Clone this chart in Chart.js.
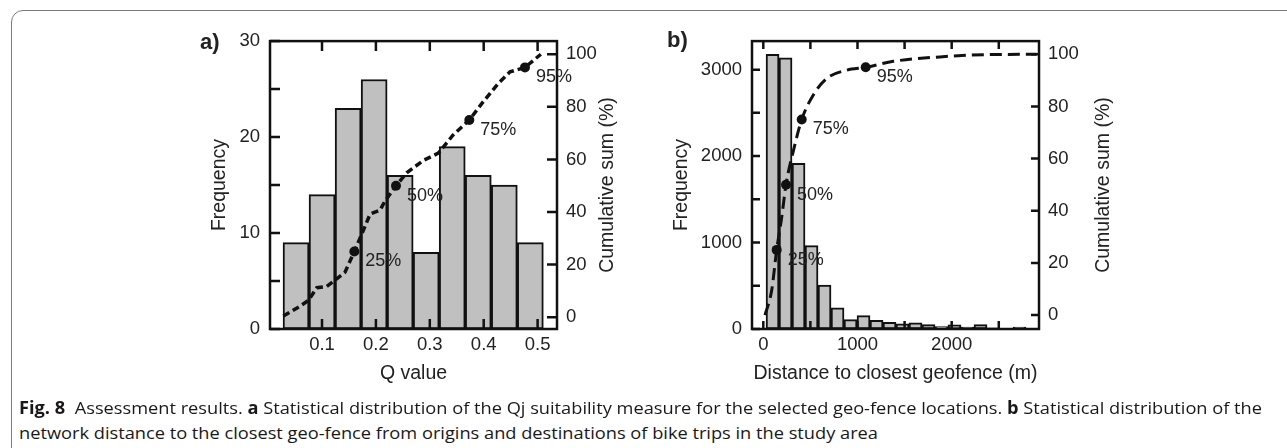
<!DOCTYPE html>
<html><head><meta charset="utf-8">
<script src="https://cdn.jsdelivr.net/npm/chart.js@4.4.1/dist/chart.umd.min.js"></script>
<style>
html,body{margin:0;padding:0;background:#fff;width:1287px;height:448px;overflow:hidden;position:relative;font-family:"Liberation Sans",Arial,sans-serif;}
#frame{position:absolute;left:11px;top:10px;width:1320px;height:470px;border:1.5px solid #7d7d7d;border-radius:12px;box-sizing:border-box;}
canvas{position:absolute;}
.pl{position:absolute;font-weight:bold;font-size:22px;color:#222;line-height:22px;}
.cap{position:absolute;left:19px;font-family:"Open Sans",sans-serif;font-size:17px;line-height:20px;color:#1a1718;white-space:nowrap;transform-origin:0 50%;}
.cap b{font-weight:700;}
</style></head><body>
<div id="frame"></div>
<canvas id="ca" width="440" height="380" style="left:190px;top:20px"></canvas>
<canvas id="cb" width="480" height="380" style="left:640px;top:20px"></canvas>
<div class="pl" style="left:200px;top:31px">a)</div>
<div class="pl" style="left:667px;top:29px">b)</div>
<div class="cap" id="cap1" style="top:398px"><b>Fig. 8</b>&nbsp; Assessment results. <b>a</b> Statistical distribution of the Qj suitability measure for the selected geo-fence locations. <b>b</b> Statistical distribution of the</div>
<div class="cap" id="cap2" style="top:423px">network distance to the closest geo-fence from origins and destinations of bike trips in the study area</div>
<script>
// ---------- Panel a data ----------
const qBinCenters = [0.0518, 0.1001, 0.1484, 0.1967, 0.2450, 0.2933, 0.3416, 0.3899, 0.4382, 0.4865];
const qFrequency  = [9, 14, 23, 26, 16, 8, 19, 16, 15, 9];
const qCumX = [0.0282, 0.0595, 0.0750, 0.0904, 0.1087, 0.1272, 0.1427, 0.1600, 0.1738, 0.1892, 0.2078, 0.2170, 0.2373, 0.2571, 0.2880, 0.3158, 0.3437, 0.3733, 0.3993, 0.4271, 0.4488, 0.4766, 0.5060];
const qCumY = [0.4, 4.2, 6.4, 11.2, 11.7, 14.6, 17.1, 25, 31.6, 39.2, 40.7, 44.2, 50, 54.9, 59.6, 62.4, 69.4, 75, 82.0, 88.9, 93.3, 95, 100];
const qMarkX = [0.160, 0.2373, 0.3733, 0.4766];
const qMarkY = [25, 50, 75, 95];
const qXTicks = [0.1, 0.2, 0.3, 0.4, 0.5];
const qYTicks = [0, 10, 20, 30];
const qYMinor = [5, 15, 25];
const cumTicks = [0, 20, 40, 60, 80, 100];

// ---------- Panel b data ----------
const dBinCenters = [98, 236, 374, 512, 650, 788, 926, 1064, 1202, 1340, 1478, 1616, 1754, 1892, 2030, 2168, 2306, 2444, 2582, 2720];
const dFrequency  = [3176, 3137, 1916, 964, 509, 244, 109, 155, 101, 78, 60, 71, 52, 29, 48, 21, 52, 14, 5, 21];
const dCumX = [18, 89, 142, 195, 241, 318, 408, 531, 673, 885, 1087, 1380, 1876, 2407, 2902];
const dCumY = [0, 9.5, 25, 37.4, 50, 62.8, 75, 84.4, 90.7, 93.9, 95, 97.3, 99.0, 99.9, 100];
const dMarkX = [142, 241, 408, 1087];
const dMarkY = [25, 50, 75, 95];
const dXTicks = [0, 1000, 2000];
const dXMinor = [500, 1500, 2500];
const dYTicks = [0, 1000, 2000, 3000];
const dYMinor = [500, 1500, 2500];

const markLabels = ['25%', '50%', '75%', '95%'];

Chart.defaults.font.family = '"Liberation Sans", Arial, sans-serif';
Chart.defaults.color = '#222';

const deco = {
  id: 'deco',
  afterDatasetsDraw(chart, args, o) {
    const {ctx, chartArea: a, scales} = chart;
    ctx.save();
    ctx.strokeStyle = '#111';
    ctx.lineWidth = o.lw;
    ctx.beginPath();
    const L = o.tl;
    for (const v of o.xTicks) { const p = scales.x.getPixelForValue(v); ctx.moveTo(p, a.bottom); ctx.lineTo(p, a.bottom - L); ctx.moveTo(p, a.top); ctx.lineTo(p, a.top + L); }
    for (const v of o.yTicks) { const p = scales.y.getPixelForValue(v); ctx.moveTo(a.left, p); ctx.lineTo(a.left + L, p); }
    for (const v of o.y2Ticks) { const p = scales.y2.getPixelForValue(v); ctx.moveTo(a.right, p); ctx.lineTo(a.right - L, p); }
    ctx.stroke();
    ctx.strokeRect(a.left, a.top, a.right - a.left, a.bottom - a.top);
    // percentage labels
    const meta = chart.getDatasetMeta(2);
    ctx.fillStyle = '#222';
    ctx.font = '18px "Liberation Sans", Arial, sans-serif';
    ctx.textAlign = 'left';
    ctx.textBaseline = 'middle';
    meta.data.forEach((pt, i) => { ctx.fillText(markLabels[i], pt.x + 11, pt.y + 10); });
    // right axis title
    ctx.font = '19.5px "Liberation Sans", Arial, sans-serif';
    ctx.textAlign = 'center';
    ctx.translate(o.rtX, (a.top + a.bottom) / 2);
    ctx.rotate(-Math.PI / 2);
    ctx.fillText('Cumulative sum (%)', 0, 0);
    ctx.restore();
  }
};

function fixTicks(vals) { return s => { s.ticks = vals.map(v => ({value: v})); }; }

function makePanel(id, P) {
  const pts = (xs, ys) => xs.map((x, i) => ({x, y: ys[i]}));
  return new Chart(document.getElementById(id), {
    type: 'bar',
    data: {
      datasets: [
        {type: 'bar', data: pts(P.binX, P.freq), xAxisID: 'x', yAxisID: 'y', backgroundColor: '#c0c0c0', borderColor: '#111', borderWidth: 2, borderSkipped: false, barPercentage: 1, categoryPercentage: 1, order: 3},
        {type: 'line', data: pts(P.cumX, P.cumY), xAxisID: 'x', yAxisID: 'y2', borderColor: '#111', borderWidth: P.lineW, borderDash: P.dash, pointRadius: 0, tension: P.tension, cubicInterpolationMode: P.cim, fill: false, order: 2},
        {type: 'line', data: pts(P.markX, P.markY), xAxisID: 'x', yAxisID: 'y2', showLine: false, pointRadius: 5, pointBackgroundColor: '#111', pointBorderColor: '#111', pointBorderWidth: 0, order: 1}
      ]
    },
    options: {
      responsive: false, animation: false, devicePixelRatio: 1,
      layout: {padding: {top: 19, left: 0, right: 0, bottom: 0}},
      plugins: {legend: {display: false}, tooltip: {enabled: false}, deco: P.deco},
      scales: {
        x: {type: 'linear', position: 'bottom', offset: false, min: P.xMin, max: P.xMax,
            grid: {display: false, drawTicks: false}, border: {display: false},
            afterBuildTicks: fixTicks(P.xTicks), afterFit: s => { s.height = 71; },
            ticks: {font: {size: 18.5}, padding: 5, maxRotation: 0, autoSkip: false, callback: v => String(v)},
            title: {display: true, text: P.xTitle, font: {size: 19.5}, padding: {top: 0, bottom: 14.8}}},
        y: {type: 'linear', position: 'left', min: 0, max: P.yMax,
            grid: {display: false, drawTicks: false}, border: {display: false},
            afterBuildTicks: fixTicks(P.yTicks), afterFit: s => { s.width = P.yW; },
            ticks: {font: {size: 18.5}, padding: 10, autoSkip: false, callback: v => String(v)},
            title: {display: true, text: 'Frequency', font: {size: 19.5}, padding: {top: P.yTitlePad, bottom: 0}}},
        y2: {type: 'linear', position: 'right', min: P.y2Min, max: P.y2Max,
            grid: {display: false, drawTicks: false}, border: {display: false},
            afterBuildTicks: fixTicks(cumTicks), afterFit: s => { s.width = P.y2W; },
            ticks: {font: {size: 18.5}, padding: 9, autoSkip: false, callback: v => String(v)}}
      }
    },
    plugins: [deco]
  });
}

makePanel('ca', {
  binX: qBinCenters, freq: qFrequency, cumX: qCumX, cumY: qCumY, markX: qMarkX, markY: qMarkY,
  xMin: 0.0035, xMax: 0.536, yMax: 30, y2Min: -4.5, y2Max: 105.0, xTicks: qXTicks, yTicks: qYTicks,
  xTitle: 'Q value', yW: 80, y2W: 73, yTitlePad: 18.3, lineW: 3.5, dash: [7, 4], tension: 0, cim: 'default',
  deco: {lw: 2.5, tl: 10, xTicks: qXTicks, yTicks: qYTicks.concat(qYMinor), y2Ticks: cumTicks, rtX: 418}
});
makePanel('cb', {
  binX: dBinCenters, freq: dFrequency, cumX: dCumX, cumY: dCumY, markX: dMarkX, markY: dMarkY,
  xMin: -120, xMax: 2927, yMax: 3330, y2Min: -5.33, y2Max: 105.06, xTicks: dXTicks, yTicks: dYTicks,
  xTitle: 'Distance to closest geofence (m)', yW: 112, y2W: 81, yTitlePad: 30.3, lineW: 3, dash: [12, 6], tension: 0.4, cim: 'monotone',
  deco: {lw: 2.5, tl: 8, xTicks: dXTicks.concat(dXMinor), yTicks: dYTicks.concat(dYMinor), y2Ticks: cumTicks, rtX: 464}
});

// caption fitting
const c1 = document.getElementById('cap1'), c2 = document.getElementById('cap2');
const w1 = c1.getBoundingClientRect().width;
const k = 1243 / w1;
c1.style.transform = 'scaleX(' + k + ')';
c2.style.transform = 'scaleX(' + k + ')';
</script>
</body></html>
